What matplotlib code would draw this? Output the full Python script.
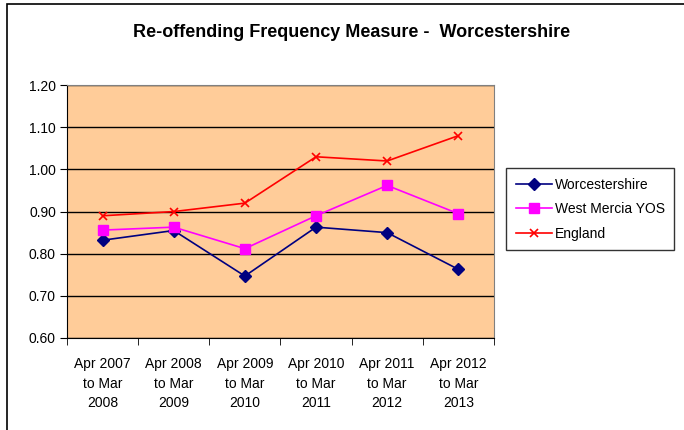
import matplotlib.pyplot as plt
import numpy as np
from matplotlib.patches import Rectangle

plt.rcParams['font.family'] = ['Liberation Sans', 'DejaVu Sans']

periods = ["Apr 2007\nto Mar\n2008", "Apr 2008\nto Mar\n2009", "Apr 2009\nto Mar\n2010",
           "Apr 2010\nto Mar\n2011", "Apr 2011\nto Mar\n2012", "Apr 2012\nto Mar\n2013"]
worcestershire = [0.832, 0.855, 0.747, 0.863, 0.850, 0.763]
west_mercia = [0.856, 0.863, 0.812, 0.890, 0.962, 0.895]
england = [0.89, 0.90, 0.92, 1.03, 1.02, 1.08]

fig = plt.figure(figsize=(6.84, 4.30), dpi=100)
ax = fig.add_axes([0.098, 0.214, 0.624, 0.588])

# chart frame
fig.patches.append(Rectangle((7 / 684, -0.1), 1.2, 1 - 4 / 430 + 0.1, transform=fig.transFigure,
                             fill=False, edgecolor='black', linewidth=1.2))

x = np.arange(len(periods))
ax.set_facecolor('#FFCC99')
ax.plot(x, worcestershire, color='#000080', marker='D', markersize=6, linewidth=1.2,
        label='Worcestershire')
ax.plot(x, west_mercia, color='#FF00FF', marker='s', markersize=7, linewidth=1.2,
        label='West Mercia YOS')
ax.plot(x, england, color='#FF0000', marker='x', markersize=6, markeredgewidth=1.2,
        linewidth=1.2, label='England')

ax.set_xlim(-0.5, len(periods) - 0.5)
ax.set_ylim(0.60, 1.20)
ax.set_yticks(np.arange(0.60, 1.21, 0.10))
ax.set_yticklabels([f"{v:.2f}" for v in np.arange(0.60, 1.21, 0.10)], fontsize=10)
ax.set_xticks(x)
ax.set_xticklabels(periods, fontsize=10, linespacing=1.5)
ax.set_xticks(np.arange(-0.5, len(periods), 1.0), minor=True)
ax.tick_params(axis='x', which='major', length=0, pad=14)
ax.tick_params(axis='x', which='minor', length=5, direction='out', color='black')
ax.tick_params(axis='y', length=5, direction='out', color='black', pad=3)
ax.grid(axis='y', color='black', linewidth=1.0)
ax.set_axisbelow(True)

for side in ['top', 'right']:
    ax.spines[side].set_color('#808080')
for side in ['left', 'bottom']:
    ax.spines[side].set_color('black')

fig.text(0.514, 0.925, "Re-offending Frequency Measure -  Worcestershire",
         ha='center', va='center', fontsize=13, fontweight='bold')

leg = fig.legend(loc='upper left', bbox_to_anchor=(506 / 684, 1 - 168 / 430), fontsize=10,
                 frameon=True, fancybox=False, edgecolor='black', borderpad=0.7,
                 borderaxespad=0.0, handlelength=2.6, labelspacing=0.75, handletextpad=0.2)
leg.get_frame().set_linewidth(1.0)

fig.savefig('out.png', dpi=100)
